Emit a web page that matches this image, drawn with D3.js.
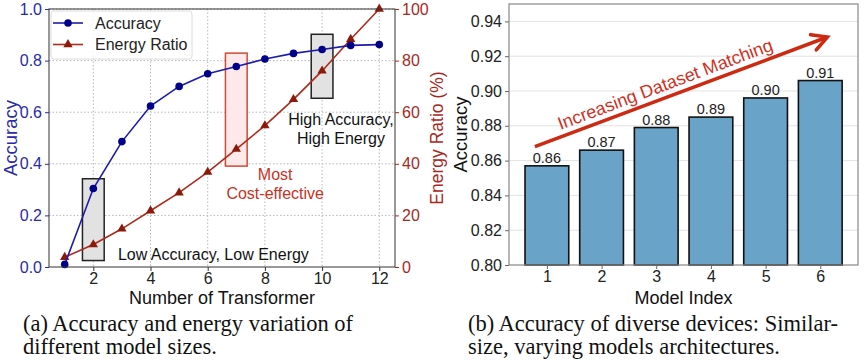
<!DOCTYPE html>
<html>
<head>
<meta charset="utf-8">
<script src="https://cdn.jsdelivr.net/npm/d3@7"></script>
<style>
  html, body { margin: 0; padding: 0; background: #fff; }
  svg { display: block; font-family: "Liberation Sans", Arial, sans-serif; }
  .cap { font-family: "Liberation Serif", "Times New Roman", serif; font-size: 22.5px; fill: #111; }
</style>
</head>
<body>
<svg id="chart" width="864" height="360"></svg>
<script>
// (a) accuracy / energy vs number of transformer blocks
const nTransformer = [1, 2, 3, 4, 5, 6, 7, 8, 9, 10, 11, 12];
const accuracy = [0.01, 0.304, 0.486, 0.624, 0.70, 0.749, 0.777, 0.806, 0.828, 0.843, 0.859, 0.862];
const energyRatio = [3.8, 8.7, 14.8, 21.8, 28.8, 36.8, 45.7, 54.8, 65.0, 76.0, 88.3, 100];
const accTicks = [0, 0.2, 0.4, 0.6, 0.8, 1.0];
const energyTicks = [0, 20, 40, 60, 80, 100];
const xTicksA = [2, 4, 6, 8, 10, 12];

// highlight boxes (center x, accuracy from/to)
const boxes = [
  { x: 2, lo: 0.025, hi: 0.342, kind: 'gray' },
  { x: 7, lo: 0.391, hi: 0.829, kind: 'red' },
  { x: 10, lo: 0.654, hi: 0.902, kind: 'gray' }
];
const notes = [
  { x: 6.2, y: 0.047, text: 'Low Accuracy, Low Energy', color: '#111' },
  { x: 8.36, y: 0.36, text: 'Most', color: '#c8321e' },
  { x: 8.36, y: 0.287, text: 'Cost-effective', color: '#c8321e' },
  { x: 10.66, y: 0.574, text: 'High Accuracy,', color: '#111' },
  { x: 10.66, y: 0.50, text: 'High Energy', color: '#111' }
];

// (b) accuracy per model
const modelIndex = [1, 2, 3, 4, 5, 6];
const modelAcc = [0.857, 0.866, 0.879, 0.885, 0.896, 0.906];
const accTicksB = [0.80, 0.82, 0.84, 0.86, 0.88, 0.90, 0.92, 0.94];
const trendArrow = [[0.78, 0.868], [6.13, 0.931]];

const svg = d3.select('#chart');

// ---------- panel (a) ----------
const A = { left: 49, right: 395, top: 9, bottom: 267 };
const xA = d3.scaleLinear().domain([0.45, 12.55]).range([A.left, A.right]);
const yAcc = d3.scaleLinear().domain([0, 1]).range([A.bottom, A.top]);
const yEn = d3.scaleLinear().domain([0, 100]).range([A.bottom, A.top]);

const blue = '#1c1caa', blueDark = '#00008b', blueText = '#2a2aa8';
const red = '#ad2a1c', redDark = '#8b1a0a', redText = '#a8281e';

const ga = svg.append('g');
// grid
ga.append('g').selectAll('line').data(xTicksA).join('line')
  .attr('x1', d => xA(d)).attr('x2', d => xA(d))
  .attr('y1', A.top).attr('y2', A.bottom)
  .attr('stroke', '#b8b8b8').attr('stroke-dasharray', '1.5,2');
ga.append('g').selectAll('line').data(accTicks.slice(1)).join('line')
  .attr('x1', A.left).attr('x2', A.right)
  .attr('y1', d => yAcc(d)).attr('y2', d => yAcc(d))
  .attr('stroke', '#b8b8b8').attr('stroke-dasharray', '1.5,2');

// boxes
ga.append('g').selectAll('rect').data(boxes).join('rect')
  .attr('x', d => xA(d.x - 0.38)).attr('width', d => xA(d.x + 0.38) - xA(d.x - 0.38))
  .attr('y', d => yAcc(d.hi)).attr('height', d => yAcc(d.lo) - yAcc(d.hi))
  .attr('fill', d => d.kind === 'red' ? '#fde9e9' : '#e2e2e2')
  .attr('stroke', d => d.kind === 'red' ? '#d24a36' : '#222')
  .attr('stroke-width', 1.5);

// energy line
ga.append('path').datum(nTransformer)
  .attr('fill', 'none').attr('stroke', red).attr('stroke-width', 1.6)
  .attr('d', d3.line().x(d => xA(d)).y((d, i) => yEn(energyRatio[i])));
const tri = d3.symbol().type(d3.symbolTriangle).size(38);
ga.append('g').selectAll('path').data(nTransformer).join('path')
  .attr('d', tri)
  .attr('transform', (d, i) => `translate(${xA(d)},${yEn(energyRatio[i])})`)
  .attr('fill', redDark);

// accuracy line
ga.append('path').datum(nTransformer)
  .attr('fill', 'none').attr('stroke', blue).attr('stroke-width', 1.6)
  .attr('d', d3.line().x(d => xA(d)).y((d, i) => yAcc(accuracy[i])));
ga.append('g').selectAll('circle').data(nTransformer).join('circle')
  .attr('cx', d => xA(d)).attr('cy', (d, i) => yAcc(accuracy[i]))
  .attr('r', 3.8).attr('fill', blueDark);

// notes
ga.append('g').selectAll('text').data(notes).join('text')
  .attr('x', d => xA(d.x)).attr('y', d => yAcc(d.y))
  .attr('dy', '0.35em').attr('text-anchor', 'middle')
  .attr('font-size', 16).attr('fill', d => d.color)
  .text(d => d.text);

// frame
ga.append('rect').attr('x', A.left).attr('y', A.top)
  .attr('width', A.right - A.left).attr('height', A.bottom - A.top)
  .attr('fill', 'none').attr('stroke', '#333').attr('stroke-width', 1);

// axes
const axA = ga.append('g').attr('transform', `translate(0,${A.bottom})`)
  .call(d3.axisBottom(xA).tickValues(xTicksA).tickSize(4).tickPadding(2));
const axL = ga.append('g').attr('transform', `translate(${A.left},0)`)
  .call(d3.axisLeft(yAcc).tickValues(accTicks).tickFormat(d3.format('.1f')).tickSize(4).tickPadding(3));
const axR = ga.append('g').attr('transform', `translate(${A.right},0)`)
  .call(d3.axisRight(yEn).tickValues(energyTicks).tickSize(4).tickPadding(3));
[axA, axL, axR].forEach(g => {
  g.select('.domain').remove();
  g.selectAll('text').attr('font-size', 16).attr('font-family', '"Liberation Sans", Arial, sans-serif');
});
axA.selectAll('text').attr('fill', '#222');
axA.selectAll('line').attr('stroke', '#333');
axL.selectAll('text').attr('fill', blueText);
axL.selectAll('line').attr('stroke', blueText);
axR.selectAll('text').attr('fill', redText);
axR.selectAll('line').attr('stroke', redText);

ga.append('text').attr('x', (A.left + A.right) / 2 - 0).attr('y', 304)
  .attr('text-anchor', 'middle').attr('font-size', 18).attr('fill', '#111')
  .text('Number of Transformer');
ga.append('text').attr('transform', `translate(17,${(A.top + A.bottom) / 2}) rotate(-90)`)
  .attr('text-anchor', 'middle').attr('font-size', 18.5).attr('fill', blueText)
  .text('Accuracy');
ga.append('text').attr('transform', `translate(443,${(A.top + A.bottom) / 2}) rotate(-90)`)
  .attr('text-anchor', 'middle').attr('font-size', 17.5).attr('fill', redText)
  .text('Energy Ratio (%)');

// legend
const lg = ga.append('g');
lg.append('rect').attr('x', 51).attr('y', 11).attr('width', 141).attr('height', 48)
  .attr('rx', 3).attr('fill', 'rgba(255,255,255,0.85)').attr('stroke', '#dcdcdc');
const legendItems = [
  { label: 'Accuracy', color: blue, mark: 'circle' },
  { label: 'Energy Ratio', color: red, mark: 'tri' }
];
legendItems.forEach((it, i) => {
  const y = 23 + i * 21.5;
  lg.append('line').attr('x1', 53).attr('x2', 83).attr('y1', y).attr('y2', y)
    .attr('stroke', it.color).attr('stroke-width', 1.6);
  if (it.mark === 'circle') {
    lg.append('circle').attr('cx', 68).attr('cy', y).attr('r', 3.8).attr('fill', blueDark);
  } else {
    lg.append('path').attr('d', tri).attr('transform', `translate(68,${y})`).attr('fill', redDark);
  }
  lg.append('text').attr('x', 95).attr('y', y).attr('dy', '0.35em')
    .attr('font-size', 16).attr('fill', '#222').text(it.label);
});

// ---------- panel (b) ----------
const B = { left: 509, right: 858, top: 4, bottom: 265 };
const xB = d3.scaleLinear().domain([0.307, 6.69]).range([B.left, B.right]);
const yB = d3.scaleLinear().domain([0.80, 0.95]).range([B.bottom, B.top]);
const barW = 0.8;

const gb = svg.append('g');
gb.append('g').selectAll('line').data(accTicksB.slice(1)).join('line')
  .attr('x1', B.left).attr('x2', B.right)
  .attr('y1', d => yB(d)).attr('y2', d => yB(d))
  .attr('stroke', '#e3e3e3').attr('stroke-width', 1);

gb.append('g').selectAll('rect').data(modelIndex).join('rect')
  .attr('x', d => xB(d - barW / 2)).attr('width', xB(barW) - xB(0))
  .attr('y', (d, i) => yB(modelAcc[i])).attr('height', (d, i) => yB(0.80) - yB(modelAcc[i]))
  .attr('fill', '#6aa3c8').attr('stroke', '#111').attr('stroke-width', 1.6);

gb.append('g').selectAll('text').data(modelIndex).join('text')
  .attr('x', d => xB(d)).attr('y', (d, i) => yB(modelAcc[i]) - 3)
  .attr('text-anchor', 'middle').attr('font-size', 14.5).attr('fill', '#222')
  .text((d, i) => d3.format('.2f')(modelAcc[i]));

// trend arrow
const arrowRed = '#cc2a12';
const [p0, p1] = trendArrow.map(p => [xB(p[0]), yB(p[1])]);
const ang = Math.atan2(p1[1] - p0[1], p1[0] - p0[0]);
gb.append('line').attr('x1', p0[0]).attr('y1', p0[1]).attr('x2', p1[0]).attr('y2', p1[1])
  .attr('stroke', arrowRed).attr('stroke-width', 3.6);
const headLen = 17, headAng = 0.5;
gb.append('path')
  .attr('d', `M${p1[0] - headLen * Math.cos(ang - headAng)},${p1[1] - headLen * Math.sin(ang - headAng)}
              L${p1[0]},${p1[1]}
              L${p1[0] - headLen * Math.cos(ang + headAng)},${p1[1] - headLen * Math.sin(ang + headAng)}`)
  .attr('fill', 'none').attr('stroke', arrowRed).attr('stroke-width', 3.6)
  .attr('stroke-linecap', 'round').attr('stroke-linejoin', 'miter');
gb.append('text')
  .attr('transform', `translate(${xB(3.16)},${yB(0.904)}) rotate(${ang * 180 / Math.PI})`)
  .attr('text-anchor', 'middle').attr('dy', '0.35em')
  .attr('font-size', 18).attr('fill', '#d0301e')
  .text('Increasing Dataset Matching');

gb.append('rect').attr('x', B.left).attr('y', B.top)
  .attr('width', B.right - B.left).attr('height', B.bottom - B.top)
  .attr('fill', 'none').attr('stroke', '#888').attr('stroke-width', 1.2);

const axB = gb.append('g').attr('transform', `translate(0,${B.bottom})`)
  .call(d3.axisBottom(xB).tickValues(modelIndex).tickFormat(d3.format('d')).tickSize(4).tickPadding(2));
const axBL = gb.append('g').attr('transform', `translate(${B.left},0)`)
  .call(d3.axisLeft(yB).tickValues(accTicksB).tickFormat(d3.format('.2f')).tickSize(4).tickPadding(3));
[axB, axBL].forEach(g => {
  g.select('.domain').remove();
  g.selectAll('text').attr('font-size', 16).attr('fill', '#222')
    .attr('font-family', '"Liberation Sans", Arial, sans-serif');
  g.selectAll('line').attr('stroke', '#666');
});
gb.append('text').attr('x', (B.left + B.right) / 2).attr('y', 304)
  .attr('text-anchor', 'middle').attr('font-size', 18).attr('fill', '#111')
  .text('Model Index');
gb.append('text').attr('transform', `translate(467,${(B.top + B.bottom) / 2}) rotate(-90)`)
  .attr('text-anchor', 'middle').attr('font-size', 18.5).attr('fill', '#111')
  .text('Accuracy');

// ---------- captions ----------
const captions = [
  { x: 23, y: 331, text: '(a) Accuracy and energy variation of' },
  { x: 23, y: 354, text: 'different model sizes.' },
  { x: 468, y: 331, text: '(b) Accuracy of diverse devices: Similar-' },
  { x: 468, y: 354, text: 'size, varying models architectures.' }
];
svg.append('g').selectAll('text').data(captions).join('text')
  .attr('class', 'cap').attr('x', d => d.x).attr('y', d => d.y)
  .text(d => d.text);
</script>
</body>
</html>
